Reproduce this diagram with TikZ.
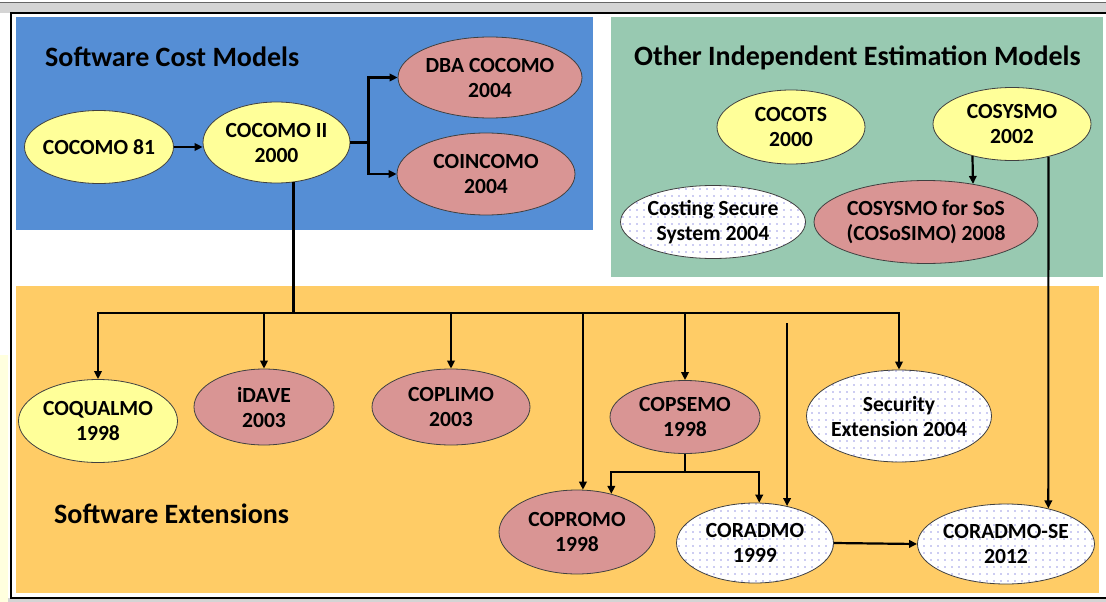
\documentclass[tikz,border=0pt]{standalone}
\usepackage{fontspec}
\setmainfont{Carlito}
\usetikzlibrary{arrows.meta, calc, patterns.meta, shapes.geometric}

\definecolor{costblue}{RGB}{85,142,213}
\definecolor{othergreen}{RGB}{152,201,177}
\definecolor{extorange}{RGB}{255,204,102}
\definecolor{baseyellow}{RGB}{255,255,153}
\definecolor{extpink}{RGB}{217,149,148}
\definecolor{dotblue}{RGB}{40,40,200}
\definecolor{framegray}{RGB}{212,212,212}
\definecolor{lightyellow}{RGB}{255,255,222}

\begin{document}
\begin{tikzpicture}[x=1pt, y=-1pt,
  model/.style={ellipse, draw=black!75, line width=0.8pt, inner xsep=-30pt, inner ysep=-10pt,
    align=center, font=\fontsize{21.6}{25}\selectfont\bfseries},
  base/.style={model, fill=baseyellow},
  ext/.style={model, fill=extpink},
  newer/.style={model, preaction={fill=white}, pattern={Dots[distance=7pt, radius=0.65pt]}, pattern color=dotblue},
  title/.style={anchor=west, inner sep=0pt, font=\fontsize{28}{33}\selectfont\bfseries},
  line/.style={line width=2.2pt},
  conn/.style={line, -{Triangle[length=8pt, width=7.5pt]}}]
\useasboundingbox (0,0) rectangle (1106,602);
% Window frame
\fill[lightyellow] (0,355) rectangle (8,602);
\fill[framegray] (0,2) rectangle (1106,13);
\draw[black!60] (0,2.5) -- (1106,2.5);
\fill[framegray] (8,598) rectangle (1106,602);
\draw[line width=1.3pt] (1106,13) -- (11,13) -- (11,598) -- (1106,598);
% Group areas
\fill[costblue] (16,17) rectangle (593,230);
\fill[othergreen] (611,17) rectangle (1103,277);
\fill[extorange] (16,286) rectangle (1099,593);
\node[title] (costtitle) at (45,57) {Software Cost Models};
\node[title] (othertitle) at (634,58) {Other Independent Estimation Models};
\node[title] (exttitle) at (54,514) {Software Extensions};
% Cost models
\node[base, minimum width=149pt, minimum height=73pt] (coc81) at (99,147) {COCOMO 81};
\node[base, minimum width=147pt, minimum height=81pt] (cocII) at (276.5,142.5) {COCOMO II\\2000};
\node[ext, minimum width=184pt, minimum height=81pt] (dba) at (490,77.5) {DBA COCOMO\\2004};
\node[ext, minimum width=178pt, minimum height=82pt] (coinc) at (486,174) {COINCOMO\\2004};
% Other independent models
\node[base, minimum width=148pt, minimum height=74pt] (cocots) at (791,127) {COCOTS\\2000};
\node[base, minimum width=158pt, minimum height=73pt] (cosysmo) at (1012,124) {COSYSMO\\2002};
\node[ext, minimum width=224pt, minimum height=83pt] (cososimo) at (926,222) {COSYSMO for SoS\\(COSoSIMO) 2008};
\node[newer, minimum width=185pt, minimum height=73pt] (costsec) at (713,222) {Costing Secure\\System 2004};
% Extensions
\node[base, minimum width=159pt, minimum height=83pt] (coqual) at (98,421) {COQUALMO\\1998};
\node[ext, minimum width=140pt, minimum height=76pt] (idave) at (264,407) {iDAVE\\2003};
\node[ext, minimum width=158pt, minimum height=76pt] (coplimo) at (451,407) {COPLIMO\\2003};
\node[ext, minimum width=150pt, minimum height=73pt] (copsemo) at (685,417) {COPSEMO\\1998};
\node[newer, minimum width=185pt, minimum height=92pt] (security) at (899,416) {Security\\Extension 2004};
\node[ext, minimum width=156pt, minimum height=84pt] (copromo) at (577,532) {COPROMO\\1998};
\node[newer, minimum width=157pt, minimum height=80pt] (coradmo) at (755,543) {CORADMO\\1999};
\node[newer, minimum width=177pt, minimum height=80pt] (coradse) at (1006,544) {CORADMO-SE\\2012};
% COCOMO 81 to COCOMO II
\draw[conn] (coc81.east) -- (cocII.west |- coc81.east);
% Fork to DBA COCOMO and COINCOMO
\coordinate (fork) at ($(cocII.east)+(18,0)$);
\draw[conn] (cocII.east) -- (fork) |- (dba.west);
\draw[conn] (cocII.east) -- (fork) |- (coinc.west);
% Bus down to the extensions
\draw[line] (cocII.-67) -- ++(0,131) coordinate (bus);
\draw[conn] (bus) -| (coqual.north);
\draw[conn] (bus) -| (security.north);
\draw[conn] (bus -| idave.north) -- (idave.north);
\draw[conn] (bus -| coplimo.north) -- (coplimo.north);
\draw[conn] (bus -| copromo.82) -- (copromo.82);
\draw[conn] (bus -| copsemo.north) -- (copsemo.north);
% COPSEMO split
\draw[line] (copsemo.south) -- ++(0,18) coordinate (split);
\draw[conn] (split) -| (copromo.48);
\draw[conn] (split) -| (coradmo.84);
% Free line into CORADMO
\coordinate (radtop) at (787,323);
\draw[conn] (coradmo.49 |- radtop) -- (coradmo.49);
\draw[conn] (coradmo.east) -- (coradse.west);
% COSYSMO successors
\draw[conn] (cosysmo.-141) -- (cososimo.39);
\draw[conn] (cosysmo.-42) -- (coradse.40);
\end{tikzpicture}
\end{document}
